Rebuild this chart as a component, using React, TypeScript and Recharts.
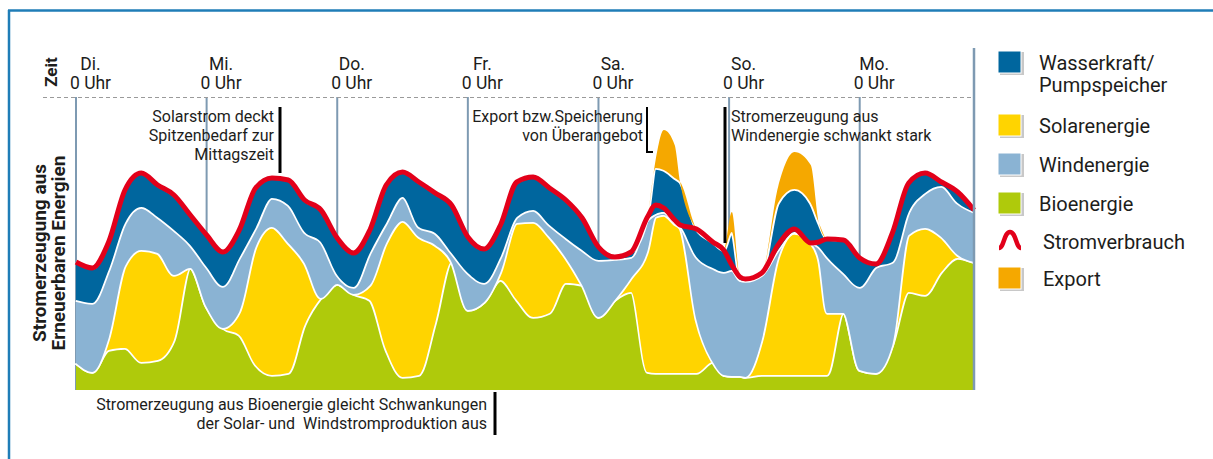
import React from "react";
import { ComposedChart, Area, Line, XAxis, YAxis, CartesianGrid } from "recharts";

// hours since Tuesday 0:00
const hours = [
  0, 3, 6, 9, 12, 15, 18, 21, 24, 27, 30, 33, 36, 39, 42, 45, 48, 51, 54, 57, 60, 63, 66, 69,
  72, 75, 78, 81, 84, 87, 90, 93, 96, 99, 102, 105, 106.5, 108, 110, 111, 114, 117, 119, 120.5,
  122, 123, 126, 129, 132, 135, 136.5, 138, 141, 144, 147, 150, 153, 156, 159, 162, 165,
];
const bio = [
  27, 18, 40, 42, 28, 30, 50, 122, 83, 62, 55, 25, 15, 17, 65, 92, 106, 96, 90, 40, 13, 15, 67, 128,
  80, 88, 110, 90, 73, 77, 107, 105, 73, 90, 98, 18, 17, 17, 17, 17, 17, 28, 15, 14,
  14, 13, 15, 15, 15, 15, 15, 15, 77, 20, 17, 45, 98, 95, 118, 132, 128,
];
const solar = [
  0, 0, 12, 82, 112, 107, 65, 0, 0, 0, 23, 118, 148, 130, 62, 0, 0, 0, 15, 107, 156, 138, 78, 0,
  0, 0, 8, 77, 95, 76, 25, 0, 0, 0, 14, 121, 156, 158, 149, 145, 53, 0, 0, 0,
  0, 0, 35, 117, 142, 132, 115, 62, 0, 0, 0, 0, 57, 67, 35, 3, 0,
];
const wind = [
  63, 69, 68, 43, 43, 36, 45, 23, 40, 42, 54, 19, 29, 38, 31, 56, 9, 7, 32, 20, 24, 10, 12, 9,
  37, 19, 15, 6, 12, 12, 20, 35, 57, 41, 21, 31, 3, 3, 2, 2, 63, 94, 103, 106,
  96, 96, 65, 8, 1, 1, 13, 56, 40, 83, 106, 83, 23, 35, 51, 52, 50,
];
const hydro = [
  38, 35, 28, 33, 34, 32, 35, 30, 32, 34, 28, 40, 20, 25, 32, 32, 37, 34, 23, 38, 25, 45, 40, 48,
  36, 34, 32, 35, 33, 37, 38, 32, 13, 2, 5, 3, 46, 42, 44, 44, 28, 26, 22, 38,
  3, 2, 2, 47, 43, 39, 24, 18, 33, 29, 3, 29, 29, 20, 4, 11, 2,
];
const exportPower = [
  0, 0, 0, 0, 0, 0, 0, 0, 0, 0, 0, 0, 0, 0, 0, 0, 0, 0, 0, 0, 0, 0, 0, 0,
  0, 0, 0, 0, 0, 0, 0, 0, 0, 0, 0, 0, 8, 40, 33, 0, 0, 0, 0, 20,
  0, 0, 0, 16, 37, 38, 0, 0, 0, 0, 0, 0, 0, 0, 0, 0, 0,
];
const consumption = [
  128, 122, 148, 200, 217, 205, 195, 175, 155, 138, 160, 202, 212, 210, 190, 180, 152, 137, 160, 205, 218, 208, 197, 185,
  153, 141, 165, 208, 213, 202, 190, 172, 143, 133, 138, 173, 185, 182, 170, 165, 161, 148, 140, 125,
  113, 111, 117, 145, 161, 147, 148, 151, 150, 132, 126, 157, 207, 217, 208, 198, 180,
];

const dayTicks = [0, 24, 48, 72, 96, 120, 144];
const dayNames = ["Di.", "Mi.", "Do.", "Fr.", "Sa.", "So.", "Mo."];

const data = hours.map((h, i) => ({
  h,
  bio: bio[i],
  solar: solar[i],
  wind: wind[i],
  hydro: hydro[i],
  exp: exportPower[i],
  load: consumption[i],
}));

const C = {
  hydro: "#00669e",
  solar: "#ffd400",
  wind: "#8ab3d3",
  bio: "#afca0b",
  exp: "#f5a800",
  red: "#e2001a",
  grid: "#7e9ab2",
  frame: "#1f7db7",
  text: "#1d1d1b",
};
const FONT = "Roboto, 'DejaVu Sans', sans-serif";

const legendItems = [
  { lines: ["Wasserkraft/", "Pumpspeicher"], color: C.hydro },
  { lines: ["Solarenergie"], color: C.solar },
  { lines: ["Windenergie"], color: C.wind },
  { lines: ["Bioenergie"], color: C.bio },
  { lines: ["Stromverbrauch"], color: C.red, arch: true },
  { lines: ["Export"], color: C.exp },
];
const legendTops = [51, 114, 153, 192, 230, 267];

function DayTick(props: any) {
  const { x, payload } = props;
  const i = dayTicks.indexOf(payload.value);
  const cx = x + 14.5;
  return (
    <text textAnchor="middle" fontFamily={FONT} fontSize={17.5} fill={C.text}>
      <tspan x={cx} y={70}>{dayNames[i]}</tspan>
      <tspan x={cx} y={89}>0 Uhr</tspan>
    </text>
  );
}

function Overlay() {
  const t = { fontFamily: FONT, fill: C.text };
  return (
    <svg
      width={1213}
      height={459}
      style={{ position: "absolute", left: 0, top: 0, pointerEvents: "none" }}
    >
      {/* frame */}
      <line x1={8} y1={10.5} x2={1213} y2={10.5} stroke={C.frame} strokeWidth={2.5} />
      <line x1={9} y1={10} x2={9} y2={459} stroke={C.frame} strokeWidth={2.5} />
      <line x1={43} y1={97.5} x2={974} y2={97.5} stroke="#9a9a9a" strokeDasharray="4 3" />
      <line x1={974} y1={48} x2={974} y2={390} stroke={C.grid} strokeWidth={2.5} />

      <text {...t} fontSize={17} fontWeight={700} textAnchor="middle" transform="translate(57,72) rotate(-90)">
        Zeit
      </text>
      <text {...t} fontSize={19} fontWeight={700} textAnchor="middle" transform="translate(46,253) rotate(-90)">
        Stromerzeugung aus
      </text>
      <text {...t} fontSize={19} fontWeight={700} textAnchor="middle" transform="translate(65,253) rotate(-90)">
        Erneuerbaren Energien
      </text>

      {/* annotations */}
      <g {...t} fontSize={16} textAnchor="end">
        <text x={274} y={122}>Solarstrom deckt</text>
        <text x={274} y={141}>Spitzenbedarf zur</text>
        <text x={274} y={160}>Mittagszeit</text>
        <text x={643} y={122}>Export bzw.Speicherung</text>
        <text x={643} y={141}>von Überangebot</text>
        <text x={487} y={410}>Stromerzeugung aus Bioenergie gleicht Schwankungen</text>
        <text x={487} y={429}>{"der Solar- und \u00a0Windstromproduktion aus"}</text>
      </g>
      <g {...t} fontSize={16}>
        <text x={731} y={122}>Stromerzeugung aus</text>
        <text x={731} y={141}>Windenergie schwankt stark</text>
      </g>
      <line x1={280} y1={107} x2={280} y2={173} stroke="#000" strokeWidth={3} />
      <polyline points="647,107 647,152 653,152" fill="none" stroke="#000" strokeWidth={2} />
      <line x1={725} y1={107} x2={725} y2={243} stroke="#000" strokeWidth={3} />
      <line x1={495} y1={392} x2={495} y2={435} stroke="#000" strokeWidth={3} />

      {/* legend */}
      {legendItems.map((it, i) => {
        const top = legendTops[i];
        return (
          <g key={i}>
            {it.arch ? (
              <path
                d={`M999 ${top + 18} C1004 ${top + 18} 1004 ${top + 2} 1010 ${top + 2} C1016 ${top + 2} 1016 ${top + 18} 1021 ${top + 18}`}
                fill="none"
                stroke={it.color}
                strokeWidth={4.5}
              />
            ) : (
              <>
                <rect x={1000} y={top + 1} width={24} height={23} fill="#c8c8c8" />
                <rect x={998} y={top} width={23} height={22} fill={it.color} stroke="#fff" strokeWidth={1} />
              </>
            )}
            {it.lines.map((s, j) => (
              <text key={j} {...t} fontSize={20} x={it.arch || i === 5 ? 1043 : 1039} y={top + 19 + j * 22}>
                {s}
              </text>
            ))}
          </g>
        );
      })}
    </svg>
  );
}

export default function App() {
  return (
    <div style={{ position: "fixed", left: 0, top: 0, width: 1213, height: 459, background: "#fff" }}>
      <div style={{ position: "absolute", left: 0, top: 0 }}>
        <ComposedChart
          width={1213}
          height={459}
          data={data}
          margin={{ top: 57, right: 239, bottom: 69, left: 76 }}
        >
          <CartesianGrid horizontal={false} vertical stroke={C.grid} strokeWidth={2} />
          <XAxis
            dataKey="h"
            type="number"
            orientation="top"
            height={40}
            domain={[0, 165]}
            ticks={dayTicks}
            axisLine={false}
            tickLine={false}
            tick={<DayTick />}
            interval={0}
          />
          <YAxis hide domain={[0, 293]} />
          <Area type="monotone" dataKey="bio" stackId="g" fill={C.bio} fillOpacity={1} stroke="#fff" strokeWidth={3.5} isAnimationActive={false} />
          <Area type="monotone" dataKey="solar" stackId="g" fill={C.solar} fillOpacity={1} stroke="#fff" strokeWidth={3.5} isAnimationActive={false} />
          <Area type="monotone" dataKey="wind" stackId="g" fill={C.wind} fillOpacity={1} stroke="#fff" strokeWidth={3.5} isAnimationActive={false} />
          <Area type="monotone" dataKey="hydro" stackId="g" fill={C.hydro} fillOpacity={1} stroke="#fff" strokeWidth={3.5} isAnimationActive={false} />
          <Area type="monotone" dataKey="exp" stackId="g" fill={C.exp} fillOpacity={1} stroke="none" isAnimationActive={false} />
          <Line type="monotone" dataKey="load" stroke={C.red} strokeWidth={5} dot={false} strokeLinejoin="round" isAnimationActive={false} />
        </ComposedChart>
      </div>
      <Overlay />
    </div>
  );
}
